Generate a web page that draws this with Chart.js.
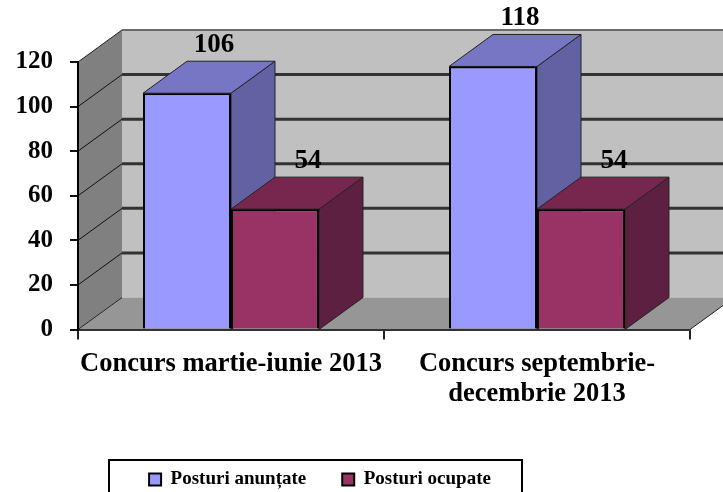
<!DOCTYPE html>
<html><head><meta charset="utf-8">
<style>html,body{margin:0;padding:0;background:#fff}#w{width:723px;height:492px;position:relative}</style>
<script src="https://cdn.jsdelivr.net/npm/chart.js@4"></script>
</head><body><div id="w"><canvas id="c"></canvas></div>
<script>
const categories = [['Concurs martie-iunie 2013'], ['Concurs septembrie-', 'decembrie 2013']];
const postAnuntate = [106, 118];
const postOcupate = [54, 54];
const yMax = 120, yStep = 20;
const DX = 44, DY = 32;
const FONT = "'Liberation Serif', serif";

function poly(ctx, pts, fill, stroke, lw) {
  ctx.beginPath();
  pts.forEach((p, i) => i ? ctx.lineTo(p[0], p[1]) : ctx.moveTo(p[0], p[1]));
  ctx.closePath();
  if (fill) { ctx.fillStyle = fill; ctx.fill(); }
  if (stroke) { ctx.strokeStyle = stroke; ctx.lineWidth = lw || 1; ctx.stroke(); }
}

const box3d = {
  id: 'box3d',
  afterLayout(chart) {
    const lg = chart.legend;
    lg.left = 100; lg.right = 540;
    lg.top = 434;
  },
  beforeDraw(chart) {
    const { ctx, chartArea: a, scales: { y } } = chart;
    ctx.save();
    poly(ctx, [[a.left + DX, a.top - DY], [a.right + DX, a.top - DY], [a.right + DX, a.bottom - DY], [a.left + DX, a.bottom - DY]], '#c0c0c0');
    poly(ctx, [[a.left, a.top], [a.left + DX, a.top - DY], [a.left + DX, a.bottom - DY], [a.left, a.bottom]], '#808080');
    poly(ctx, [[a.left, a.bottom], [a.left + DX, a.bottom - DY], [a.right + DX, a.bottom - DY], [a.right, a.bottom]], '#969696');
    ctx.strokeStyle = '#6a6a6a'; ctx.lineWidth = 2;
    ctx.beginPath(); ctx.moveTo(a.left + DX, a.top - DY); ctx.lineTo(a.right + DX, a.top - DY); ctx.stroke();
    ctx.lineWidth = 1; ctx.strokeStyle = '#222';
    ctx.beginPath(); ctx.moveTo(a.left, a.top); ctx.lineTo(a.left + DX, a.top - DY); ctx.stroke();
    ctx.beginPath(); ctx.moveTo(a.left, a.bottom); ctx.lineTo(a.left + DX, a.bottom - DY); ctx.stroke();
    ctx.beginPath(); ctx.moveTo(a.right, a.bottom); ctx.lineTo(a.right + DX, a.bottom - DY); ctx.stroke();
    for (let v = yStep; v < yMax; v += yStep) {
      const py = y.getPixelForValue(v);
      ctx.lineWidth = 1; ctx.strokeStyle = '#111';
      ctx.beginPath(); ctx.moveTo(a.left, py); ctx.lineTo(a.left + DX, py - DY); ctx.stroke();
      ctx.lineWidth = 3; ctx.strokeStyle = '#333';
      ctx.beginPath(); ctx.moveTo(a.left + DX, py - DY); ctx.lineTo(a.right + DX, py - DY); ctx.stroke();
    }
    ctx.restore();
  },
  beforeDatasetsDraw(chart) {
    const { ctx } = chart;
    const base = chart.chartArea.bottom;
    ctx.save();
    ctx.lineJoin = 'round';
    chart.data.datasets.forEach((ds, di) => {
      chart.getDatasetMeta(di).data.forEach(el => {
        const l = el.x - el.width / 2, r = el.x + el.width / 2, t = el.y;
        poly(ctx, [[r, t], [r + DX, t - DY], [r + DX, base - DY], [r, base]], ds.sideColor, '#222', 1);
        poly(ctx, [[l, t], [l + DX, t - DY], [r + DX, t - DY], [r, t]], ds.topColor, '#222', 1);
      });
    });
    ctx.restore();
  },
  afterDatasetsDraw(chart) {
    const { ctx } = chart;
    ctx.save();
    ctx.fillStyle = '#000';
    ctx.font = 'bold 27px ' + FONT;
    ctx.textAlign = 'center';
    ctx.textBaseline = 'middle';
    chart.data.datasets.forEach((ds, di) => {
      chart.getDatasetMeta(di).data.forEach((el, i) => {
        ctx.fillText(String(ds.data[i]), el.x + ds.labelShift, el.y - DY - 16);
      });
    });
    ctx.restore();
  },
  afterDraw(chart) {
    const { ctx } = chart;
    ctx.save();
    ctx.strokeStyle = '#000'; ctx.lineWidth = 2;
    ctx.strokeRect(109, 460, 413, 40);
    ctx.restore();
  }
};

Chart.defaults.font.family = FONT;
new Chart(document.getElementById('c'), {
  type: 'bar',
  plugins: [box3d],
  data: {
    labels: categories,
    datasets: [
      { label: 'Posturi anunțate', data: postAnuntate, backgroundColor: '#9999ff', borderColor: '#000', borderWidth: 2, topColor: '#7676c4', sideColor: '#6262a3', labelShift: 27 },
      { label: 'Posturi ocupate', data: postOcupate, backgroundColor: '#993366', borderColor: '#000', borderWidth: 2, topColor: '#77274e', sideColor: '#5e2040', labelShift: 33 }
    ]
  },
  options: {
    responsive: true, maintainAspectRatio: false, animation: false,
    layout: { padding: { top: 62, right: 33, left: 0, bottom: 0 } },
    datasets: { bar: { categoryPercentage: 0.575, barPercentage: 1 } },
    plugins: {
      tooltip: { enabled: false },
      legend: {
        position: 'bottom',
        labels: { color: '#000', boxWidth: 12, boxHeight: 12, padding: 36, font: { size: 19, weight: 'bold', family: FONT } }
      }
    },
    scales: {
      x: {
        afterFit(s) { s.height = 97.5; },
        grid: { drawOnChartArea: false, drawTicks: true, tickLength: 10, color: '#222', lineWidth: 2 },
        border: { color: '#333', width: 2 },
        ticks: { color: '#000', padding: 10, maxRotation: 0, minRotation: 0, font: { size: 26.5, weight: 'bold', family: FONT, lineHeight: 30 / 26.5 } }
      },
      y: {
        min: 0, max: yMax,
        afterFit(s) { s.width = 78; },
        grid: { drawOnChartArea: false, drawTicks: true, tickLength: 8, color: '#111', lineWidth: 2 },
        border: { color: '#000', width: 2 },
        ticks: { stepSize: yStep, color: '#000', padding: 17, font: { size: 25, weight: 'bold', family: FONT } }
      }
    }
  }
});
</script>
</body></html>
